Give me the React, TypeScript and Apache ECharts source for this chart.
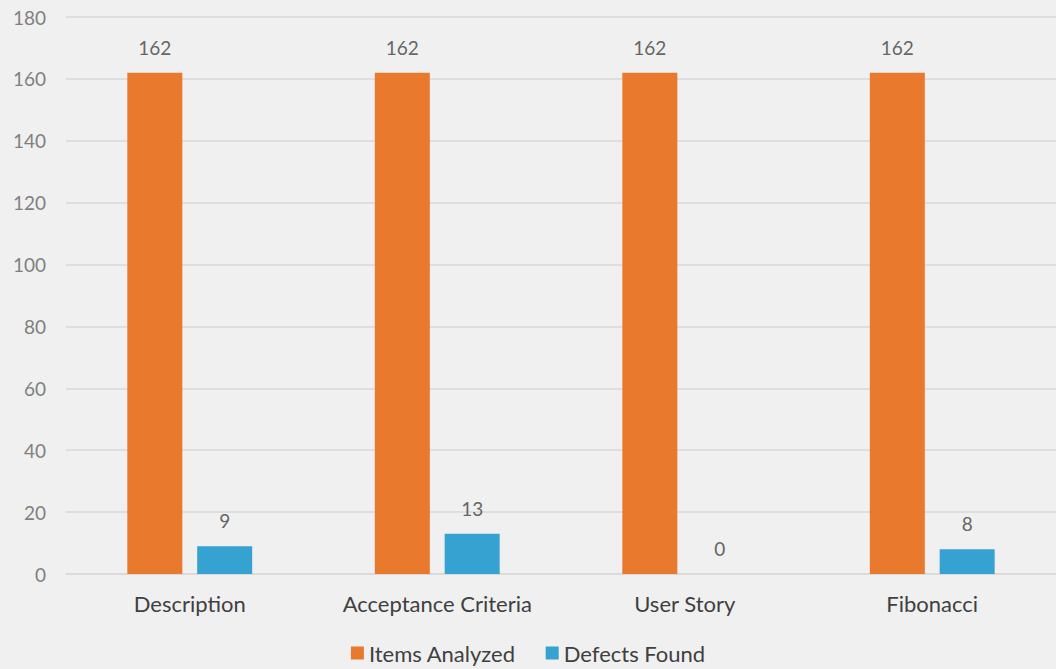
import React, { useEffect, useRef } from "react";
import * as echarts from "echarts";

const categories = ["Description", "Acceptance Criteria", "User Story", "Fibonacci"];
const itemsAnalyzed = [162, 162, 162, 162];
const defectsFound = [9, 13, 0, 8];
const seriesNames = ["Items Analyzed", "Defects Found"];

const FONT = "Lato, 'Noto Sans', sans-serif";

export default function App() {
  const ref = useRef<HTMLDivElement>(null);
  useEffect(() => {
    if (!ref.current) return;
    const chart = echarts.init(ref.current, undefined, { renderer: "svg" });
    const label = {
      show: true,
      position: "top" as const,
      distance: 16,
      color: "#666666",
      fontSize: 19,
      fontFamily: FONT,
    };
    chart.setOption({
      animation: false,
      backgroundColor: "#f0f0f0",
      textStyle: { fontFamily: FONT },
      grid: { left: 66, width: 994, top: 17, bottom: 95, containLabel: false },
      legend: {
        bottom: 0,
        left: "center",
        itemWidth: 13,
        itemHeight: 13,
        itemGap: 30,
        icon: "rect",
        textStyle: { color: "#404040", fontSize: 22, fontFamily: FONT },
        data: seriesNames,
      },
      xAxis: {
        type: "category",
        data: categories,
        axisLine: { show: true, lineStyle: { color: "#d9d9d9", width: 1.5 } },
        axisTick: { show: false },
        axisLabel: { color: "#404040", fontSize: 22, fontFamily: FONT, margin: 18 },
      },
      yAxis: {
        type: "value",
        min: 0,
        max: 180,
        interval: 20,
        axisLine: { show: false },
        axisTick: { show: false },
        splitLine: { lineStyle: { color: "#d9d9d9", width: 1.5 } },
        axisLabel: { color: "#808080", fontSize: 19, fontFamily: FONT, margin: 20 },
      },
      series: [
        {
          name: seriesNames[0],
          type: "bar",
          data: itemsAnalyzed,
          barWidth: 55,
          barGap: "27%",
          itemStyle: { color: "#e8792d" },
          label,
        },
        {
          name: seriesNames[1],
          type: "bar",
          data: defectsFound,
          barWidth: 55,
          itemStyle: { color: "#36a2d1" },
          label,
        },
      ],
    });
    return () => chart.dispose();
  }, []);
  return (
    <div
      ref={ref}
      style={{ position: "fixed", left: 0, top: 0, width: 1056, height: 669 }}
    />
  );
}
